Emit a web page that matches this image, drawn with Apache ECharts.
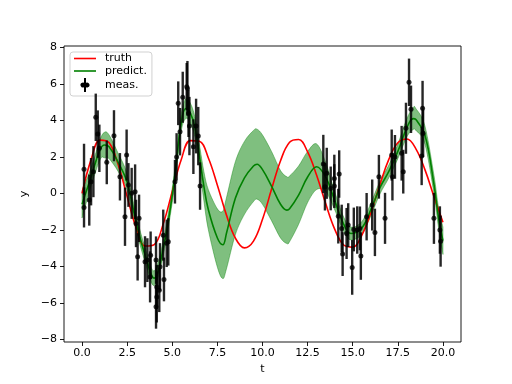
<!DOCTYPE html>
<html><head><meta charset="utf-8">
<script src="https://cdn.jsdelivr.net/npm/echarts@6/dist/echarts.min.js"></script>
<style>html,body{margin:0;padding:0;background:#fff}#c{width:512px;height:384px}</style>
</head><body><div id="c"></div>
<script>
const xTicks = [0, 2.5, 5, 7.5, 10, 12.5, 15, 17.5, 20];
const yTicks = [-8, -6, -4, -2, 0, 2, 4, 6, 8];

const truthT = [0,0.5,1,1.5,2,2.5,3,3.5,4,4.5,5,5.5,6,6.5,7,7.5,8,8.5,9,9.5,10,10.5,11,11.5,12,12.5,13,13.5,14,14.5,15,15.5,16,16.5,17,17.5,18,18.5,19,19.5,20];
const truthY = [0,1.85,2.92,2.77,1.58,-0.18,-1.89,-2.89,-2.81,-1.67,0.11,1.86,2.89,2.86,1.94,0.45,-1.18,-2.46,-2.99,-2.62,-1.42,0.22,1.79,2.80,2.95,2.27,0.99,-0.56,-1.96,-2.83,-2.95,-2.30,-1.06,0.46,1.86,2.77,2.98,2.44,1.30,-0.17,-1.59];

const predT = [0,0.5,1,1.25,1.5,2,2.5,3,3.5,4,4.5,5,5.25,5.5,5.75,6,6.25,6.5,6.75,7,7.5,7.8,8,8.5,9,9.5,9.7,10,10.5,11,11.35,11.5,12,12.5,13,13.5,14,14.5,14.9,15.5,16,16.5,17,17.5,18,18.35,18.5,19,19.5,19.75,20];
const predMean = [-0.6,0.9,2.4,2.65,2.55,1.7,0.6,-1.6,-3.4,-4.65,-3.0,-0.1,1.9,3.9,4.65,4.4,3.65,2.1,0.4,-0.9,-2.45,-2.82,-2.2,-0.25,0.85,1.5,1.6,1.3,0.4,-0.6,-0.92,-0.85,-0.1,0.9,1.46,0.9,-0.4,-1.7,-2.2,-1.9,-0.9,0.3,1.2,2.3,3.6,4.1,4.05,3.2,0.5,-1.3,-2.6];
const predHalf = [0.75,0.5,0.55,0.7,0.65,0.5,0.45,0.4,0.4,0.4,0.4,0.4,0.4,0.45,0.55,0.55,0.55,0.6,0.8,1.1,1.6,1.85,1.95,2.0,2.0,1.95,1.92,1.9,1.9,1.85,1.83,1.8,1.6,1.4,1.25,0.8,0.5,0.4,0.35,0.35,0.35,0.35,0.35,0.4,0.5,0.6,0.6,0.5,0.5,0.55,0.75];

const measT = [0.11,0.11,0.4,0.5,0.63,0.76,0.87,0.96,1.37,1.77,2.1,2.38,2.47,2.57,2.75,2.94,2.99,3.08,3.16,3.49,3.62,3.77,3.8,4.1,4.14,4.14,4.1,4.28,4.32,4.54,4.5,4.69,4.78,5.15,5.24,5.33,5.43,5.58,5.8,5.84,5.9,5.95,6.17,6.32,6.44,6.54,
  13.37,13.46,13.56,13.78,13.98,13.98,14.2,14.25,14.39,14.44,14.66,14.75,14.97,15.06,15.25,15.4,15.45,15.77,16.08,16.23,16.45,16.79,17.16,17.2,17.34,17.71,17.8,17.95,18.12,18.23,18.82,18.87,18.9,19.5,19.83,19.87];
const measY = [1.32,-0.77,-0.37,0.64,1.19,4.17,3.25,2.47,1.7,3.16,0.91,-1.28,2.1,0.46,0.0,0.09,-1.65,-3.48,-1.37,-3.75,-3.66,-4.58,-3.39,-3.66,-5.13,-5.68,-6.22,-5.31,-4.03,-4.72,-2.29,-2.74,-2.66,0.64,2.0,4.94,3.38,5.27,5.85,5.76,4.39,3.69,2.56,3.69,3.14,0.4,
  1.61,0.36,1.1,0.27,0.82,0.4,-1.25,1.06,-1.92,-3.33,-2.2,-1.74,-4.06,-1.98,-2.01,-1.92,-3.44,-1.28,-0.64,-2.14,0.91,-1.37,2.1,0.91,2.0,2.2,1.19,3.57,6.09,4.61,2.05,4.67,3.29,-1.37,-2.01,-2.62];
const measErr = [1.4,1.1,1.4,1.3,1.4,1.3,1.3,1.3,1.2,1.4,1.3,1.6,1.4,1.2,1.4,1.5,1.3,1.3,1.3,1.4,1.2,1.4,1.3,1.3,1.2,1.4,1.2,1.2,1.3,1.2,1.4,1.3,1.3,1.2,1.3,1.2,1.3,1.4,1.3,1.5,1.3,1.6,1.5,1.5,1.6,1.3,
  1.6,1.3,1.4,1.2,1.3,1.2,1.5,1.3,1.3,1.2,1.4,1.2,1.5,1.2,1.3,1.2,1.3,1.3,1.4,1.3,1.2,1.4,1.4,1.3,1.2,1.5,1.2,1.4,1.3,1.3,1.6,1.5,1.3,1.4,1.3,1.4];

const truthData = truthT.map((t, i) => [t, truthY[i]]);
const meanData = predT.map((t, i) => [t, predMean[i]]);
const bandData = predT.map((t, i) => [t, predMean[i] - predHalf[i], predMean[i] + predHalf[i]]);
const measData = measT.map((t, i) => [t, measY[i]]);
const errData = measT.map((t, i) => [t, measY[i] - measErr[i], measY[i] + measErr[i]]);

// Catmull-Rom path through pixel points
function crPath(pts, start) {
  let d = start ? 'M' + pts[0][0] + ',' + pts[0][1] : 'L' + pts[0][0] + ',' + pts[0][1];
  for (let i = 0; i < pts.length - 1; i++) {
    const p0 = pts[Math.max(0, i - 1)], p1 = pts[i], p2 = pts[i + 1], p3 = pts[Math.min(pts.length - 1, i + 2)];
    const c1x = p1[0] + (p2[0] - p0[0]) / 6, c1y = p1[1] + (p2[1] - p0[1]) / 6;
    const c2x = p2[0] - (p3[0] - p1[0]) / 6, c2y = p2[1] - (p3[1] - p1[1]) / 6;
    d += 'C' + c1x + ',' + c1y + ' ' + c2x + ',' + c2y + ' ' + p2[0] + ',' + p2[1];
  }
  return d;
}

const FONT = 'DejaVu Sans';
const chart = echarts.init(document.getElementById('c'), null, {renderer: 'canvas'});
chart.setOption({
  animation: false,
  backgroundColor: '#fff',
  textStyle: {fontFamily: FONT},
  grid: {left: 64, right: 51, top: 46, bottom: 42, show: true, borderColor: '#000', borderWidth: 0.9, backgroundColor: 'transparent'},
  xAxis: {
    type: 'value', min: -1, max: 21,
    name: 't', nameLocation: 'middle', nameGap: 21,
    nameTextStyle: {fontFamily: FONT, fontSize: 11, color: '#000'},
    axisLine: {show: false, onZero: false},
    splitLine: {show: false},
    axisTick: {show: true, length: 4, lineStyle: {color: '#000', width: 0.9}, customValues: xTicks},
    axisLabel: {fontFamily: FONT, fontSize: 11, color: '#000', margin: 6, customValues: xTicks,
      formatter: v => v.toFixed(1)}
  },
  yAxis: {
    type: 'value', min: -8.15, max: 8.08,
    name: 'y', nameLocation: 'middle', nameGap: 28, nameRotate: 90,
    nameTextStyle: {fontFamily: FONT, fontSize: 11, color: '#000'},
    axisLine: {show: false, onZero: false},
    splitLine: {show: false},
    axisTick: {show: true, length: 4, lineStyle: {color: '#000', width: 0.9}, customValues: yTicks},
    axisLabel: {fontFamily: FONT, fontSize: 11, color: '#000', margin: 7, customValues: yTicks,
      formatter: v => (v < 0 ? '\u2212' + Math.abs(v) : String(v))}
  },
  legend: {
    orient: 'vertical', left: 70, top: 52,
    itemWidth: 22, itemHeight: 14, itemGap: 1.5,
    padding: [1, 5, 4, 4],
    backgroundColor: 'rgba(255,255,255,0.8)',
    borderColor: '#cccccc', borderWidth: 0.9, borderRadius: 3,
    textStyle: {fontFamily: FONT, fontSize: 11, color: '#000', padding: [0, 0, 0, 4]},
    selectedMode: false,
    data: [
      {name: 'truth', icon: 'path://M0,0H22V1.6H0Z', itemStyle: {color: '#ff0000'}},
      {name: 'predict.', icon: 'path://M0,0H22V1.6H0Z', itemStyle: {color: '#008000'}},
      {name: 'meas.', icon: 'path://M1.5,0H3.5V4.7A2.5,2.5 0 1 1 3.5,9.3V14H1.5V9.3A2.5,2.5 0 1 1 1.5,4.7Z', itemStyle: {color: '#000'}}
    ]
  },
  series: [
    {
      name: 'band', type: 'custom', data: bandData, z: 1, silent: true,
      encode: {x: 0, y: [1, 2]},
      renderItem: (params, api) => {
        if (params.dataIndex !== 0) return null;
        const upper = bandData.map(d => api.coord([d[0], d[2]]));
        const lower = bandData.map(d => api.coord([d[0], d[1]])).reverse();
        const d = crPath(upper, true) + crPath(lower, false) + 'Z';
        return {type: 'path', shape: {pathData: d},
          style: {fill: 'rgba(0,128,0,0.5)', stroke: 'rgba(0,128,0,0.5)', lineWidth: 0.8}};
      }
    },
    {
      name: 'truth', type: 'line', data: truthData, smooth: 0.4, symbol: 'none', z: 2,
      lineStyle: {color: '#ff0000', width: 1.6}, itemStyle: {color: '#ff0000'}
    },
    {
      name: 'predict.', type: 'line', data: meanData, smooth: 0.4, symbol: 'none', z: 3,
      lineStyle: {color: '#008000', width: 1.6}, itemStyle: {color: '#008000'}
    },
    {
      name: 'meas.', type: 'custom', data: errData, z: 4,
      encode: {x: 0, y: [1, 2]},
      itemStyle: {color: '#000'},
      renderItem: (params, api) => {
        const p1 = api.coord([api.value(0), api.value(1)]);
        const p2 = api.coord([api.value(0), api.value(2)]);
        return {type: 'line', shape: {x1: p1[0], y1: p1[1], x2: p2[0], y2: p2[1]},
          style: {stroke: 'rgba(0,0,0,0.85)', lineWidth: 2.4}};
      }
    },
    {
      name: 'meas.', type: 'scatter', data: measData, z: 5,
      symbol: 'circle', symbolSize: 5, itemStyle: {color: '#000'}
    }
  ]
});
</script>
</body></html>
